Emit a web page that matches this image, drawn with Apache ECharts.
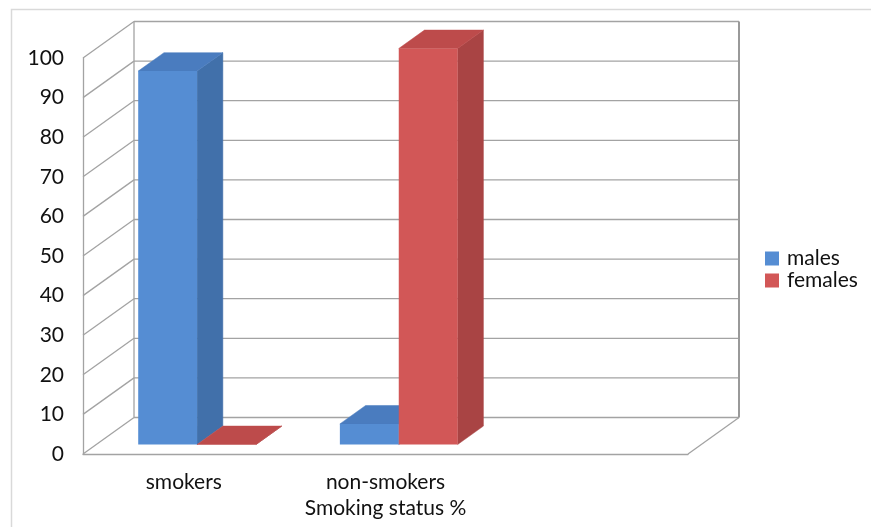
<!DOCTYPE html>
<html>
<head>
<meta charset="utf-8">
<script src="https://cdn.jsdelivr.net/npm/echarts@6/dist/echarts.min.js"></script>
<style>
html,body{margin:0;padding:0;background:#fff;}
#chart{width:871px;height:527px;}
</style>
</head>
<body>
<div id="chart"></div>
<script>
// ---- data ----
const categories = ['smokers', 'non-smokers', ''];
const seriesNames = ['males', 'females'];
const males = [94.3, 5.2, null];
const females = [0, 100, null];
const yTicks = [0, 10, 20, 30, 40, 50, 60, 70, 80, 90, 100];
const axisTitle = 'Smoking status %';

// ---- styling constants ----
const DX = 51, DY = -36.5;          // depth projection of the 3D box
const F0 = 0.26, F1 = 0.765;        // bar depth range (fraction of box depth)
const BAR_FRAC = 0.292;             // bar width as fraction of category width
const FONT = 'Lato';
const FS = 21;
const TXT = '#111111';
const colors = {
  males:   {front: '#558dd3', side: '#4170aa', top: '#4a7cbf'},
  females: {front: '#d25757', side: '#a94444', top: '#bd4b4b'}
};
const GRID_COL = '#a3a3a3';

const chart = echarts.init(document.getElementById('chart'), null, {renderer: 'canvas'});

function barRenderer(idx, c) {
  return function (params, api) {
    const cat = api.value(0), v = api.value(1);
    const base = api.coord([cat, 0]);
    const top = api.coord([cat, v]);
    const cw = api.size([1, 0])[0];
    const bw = cw * BAR_FRAC;
    const x0 = base[0] - (idx === 0 ? bw : 0) + DX * F0;
    const yb = base[1] + DY * F0;
    const yt = top[1] + DY * F0;
    const ddx = DX * (F1 - F0), ddy = DY * (F1 - F0);
    const x1 = x0 + bw;
    return {
      type: 'group',
      children: [
        {type: 'polygon', shape: {points: [[x1, yt], [x1 + ddx, yt + ddy], [x1 + ddx, yb + ddy], [x1, yb]]},
          style: {fill: c.side, stroke: c.side, lineWidth: 0.5}},
        {type: 'polygon', shape: {points: [[x0, yt], [x0 + ddx, yt + ddy], [x1 + ddx, yt + ddy], [x1, yt]]},
          style: {fill: c.top, stroke: c.top, lineWidth: 0.5}},
        {type: 'rect', shape: {x: x0, y: yt, width: bw, height: Math.max(yb - yt, 0)},
          style: {fill: c.front}}
      ]
    };
  };
}

function gridRenderer(params, api) {
  const v = api.value(1);
  const p = api.coord([0, v]);
  const cw = api.size([1, 0])[0];
  const xl = p[0] - cw / 2;
  const xr = api.coord([categories.length - 1, v])[0] + cw / 2;
  const children = [
    {type: 'line', shape: {x1: xl, y1: p[1], x2: xl + DX, y2: p[1] + DY},
      style: {stroke: GRID_COL, lineWidth: 1.3}}
  ];
  if (v > 0) {
    children.push({type: 'line', shape: {x1: xl + DX, y1: p[1] + DY, x2: xr + DX, y2: p[1] + DY},
      style: {stroke: GRID_COL, lineWidth: 1.3}});
  }
  return {type: 'group', children: children};
}

function wallRenderer(params, api) {
  const cw = api.size([1, 0])[0];
  const b0 = api.coord([0, 0]);
  const bN = api.coord([categories.length - 1, 0]);
  const t0 = api.coord([0, yTicks[yTicks.length - 1]]);
  const xl = b0[0] - cw / 2, xr = bN[0] + cw / 2;
  const yb = b0[1], yt = t0[1];
  return {
    type: 'group',
    children: [
      {type: 'line', shape: {x1: xl + DX, y1: yb + DY, x2: xr + DX, y2: yb + DY},
        style: {stroke: GRID_COL, lineWidth: 1.3}},
      {type: 'line', shape: {x1: xr, y1: yb, x2: xr + DX, y2: yb + DY},
        style: {stroke: GRID_COL, lineWidth: 1.3}},
      {type: 'line', shape: {x1: xl + DX, y1: yt + DY, x2: xl + DX, y2: yb + DY},
        style: {stroke: GRID_COL, lineWidth: 1.3}},
      {type: 'line', shape: {x1: xr + DX, y1: yt + DY, x2: xr + DX, y2: yb + DY},
        style: {stroke: '#999999', lineWidth: 2}}
    ]
  };
}

const option = {
  animation: false,
  backgroundColor: '#ffffff',
  textStyle: {fontFamily: FONT},
  graphic: [
    {type: 'rect', shape: {x: 11.5, y: 9.5, width: 900, height: 600},
      style: {fill: 'none', stroke: '#d9d9d9', lineWidth: 1.5}, z: -10}
  ],
  grid: {left: 83, top: 58, width: 605, height: 396, containLabel: false},
  legend: {
    data: seriesNames,
    orient: 'vertical',
    left: 765, top: 248,
    padding: 0,
    itemWidth: 14, itemHeight: 14, itemGap: 1,
    icon: 'rect',
    textStyle: {fontFamily: FONT, fontSize: FS, lineHeight: 21, color: TXT, padding: [0, 0, 0, 3]}
  },
  xAxis: {
    type: 'category',
    data: categories,
    boundaryGap: true,
    axisLine: {show: true, lineStyle: {color: GRID_COL, width: 1.3}},
    axisTick: {show: false},
    axisLabel: {fontFamily: FONT, fontSize: FS, color: TXT, margin: 18},
    splitLine: {show: false},
    name: axisTitle,
    nameLocation: 'middle',
    nameGap: 40,
    nameTextStyle: {fontFamily: FONT, fontSize: FS, color: TXT}
  },
  yAxis: {
    type: 'value',
    min: 0, max: 100, interval: 10,
    axisLine: {show: true, lineStyle: {color: GRID_COL, width: 1.3}},
    axisTick: {show: false},
    axisLabel: {fontFamily: FONT, fontSize: FS, color: TXT, margin: 19},
    splitLine: {show: false}
  },
  series: [
    {type: 'custom', name: '_grid', silent: true, z: 1, renderItem: gridRenderer,
      data: yTicks.map(v => [0, v])},
    {type: 'custom', name: '_walls', silent: true, z: 1, renderItem: wallRenderer,
      data: [[0, 0]]},
    {type: 'custom', name: seriesNames[0], z: 3, renderItem: barRenderer(0, colors.males),
      itemStyle: {color: colors.males.front},
      data: males.map((v, i) => [i, v]).filter(d => d[1] !== null)},
    {type: 'custom', name: seriesNames[1], z: 4, renderItem: barRenderer(1, colors.females),
      itemStyle: {color: colors.females.front},
      data: females.map((v, i) => [i, v]).filter(d => d[1] !== null)}
  ]
};
chart.setOption(option);
</script>
</body>
</html>
